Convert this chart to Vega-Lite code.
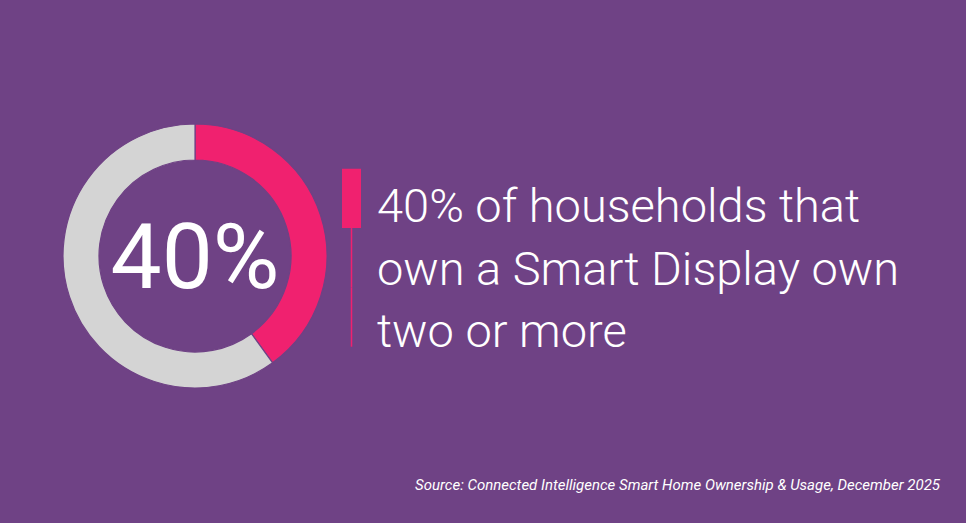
{
  "$schema": "https://vega.github.io/schema/vega-lite/v6.json",
  "background": "#6f4285",
  "padding": {"left": 60, "top": 121, "right": 26, "bottom": 34},
  "spacing": 12,
  "config": {"view": {"stroke": null}, "font": "Roboto", "concat": {"spacing": 12}},
  "datasets": {
    "share": [
      {"category": "Two or more", "value": 0.4},
      {"category": "One", "value": 0.6}
    ],
    "lines": [
      {"line": 1, "text": "40% of households that"},
      {"line": 2, "text": "own a Smart Display own"},
      {"line": 3, "text": "two or more"}
    ]
  },
  "title": {
    "text": "Source: Connected Intelligence Smart Home Ownership & Usage, December 2025",
    "orient": "bottom",
    "anchor": "end",
    "font": "Roboto",
    "fontStyle": "italic",
    "fontWeight": "normal",
    "fontSize": 15,
    "color": "#ffffff",
    "offset": 88
  },
  "hconcat": [
    {
      "width": 264,
      "height": 264,
      "data": {"name": "share"},
      "layer": [
        {
          "mark": {"type": "arc", "innerRadius": 96, "outerRadius": 132, "stroke": "#6f4285", "strokeWidth": 1.2},
          "encoding": {
            "theta": {"field": "value", "type": "quantitative", "stack": true},
            "order": {"field": "category", "sort": "descending"},
            "color": {
              "field": "category",
              "type": "nominal",
              "scale": {"domain": ["Two or more", "One"], "range": ["#f0216f", "#d4d4d4"]},
              "legend": null
            }
          }
        },
        {
          "transform": [{"filter": "datum.category == 'Two or more'"}],
          "mark": {"type": "text", "font": "Roboto", "fontSize": 91, "fontWeight": 400, "color": "#ffffff", "align": "center", "baseline": "middle", "dy": 5},
          "encoding": {
            "text": {"field": "value", "type": "quantitative", "format": ".0%"}
          }
        }
      ]
    },
    {
      "width": 23,
      "height": 264,
      "data": {"name": "lines"},
      "encoding": {
        "x": {"datum": "m", "type": "nominal", "scale": {"paddingInner": 0, "paddingOuter": 0.105, "align": 0}, "axis": null},
        "y": {"field": "line", "type": "ordinal", "scale": {"type": "band", "paddingInner": 0, "paddingOuter": 0.725, "align": 0.52}, "axis": null}
      },
      "layer": [
        {
          "transform": [{"filter": "datum.line == 1"}],
          "mark": {"type": "bar", "color": "#f0216f"}
        },
        {
          "transform": [{"filter": "datum.line > 1"}],
          "mark": {"type": "bar", "color": "#f0216f", "width": 1.5}
        }
      ]
    },
    {
      "width": 563,
      "height": 264,
      "data": {"name": "lines"},
      "mark": {"type": "text", "font": "Roboto", "fontSize": 47, "fontWeight": 300, "color": "#ffffff", "align": "left", "baseline": "alphabetic"},
      "encoding": {
        "x": {"datum": "t", "type": "nominal", "scale": {"type": "point", "padding": 0, "align": 0}, "axis": null},
        "y": {"field": "line", "type": "ordinal", "scale": {"type": "band", "paddingInner": 0, "paddingOuter": 0.612, "align": 0.873}, "axis": null},
        "text": {"field": "text", "type": "nominal"}
      }
    }
  ]
}
